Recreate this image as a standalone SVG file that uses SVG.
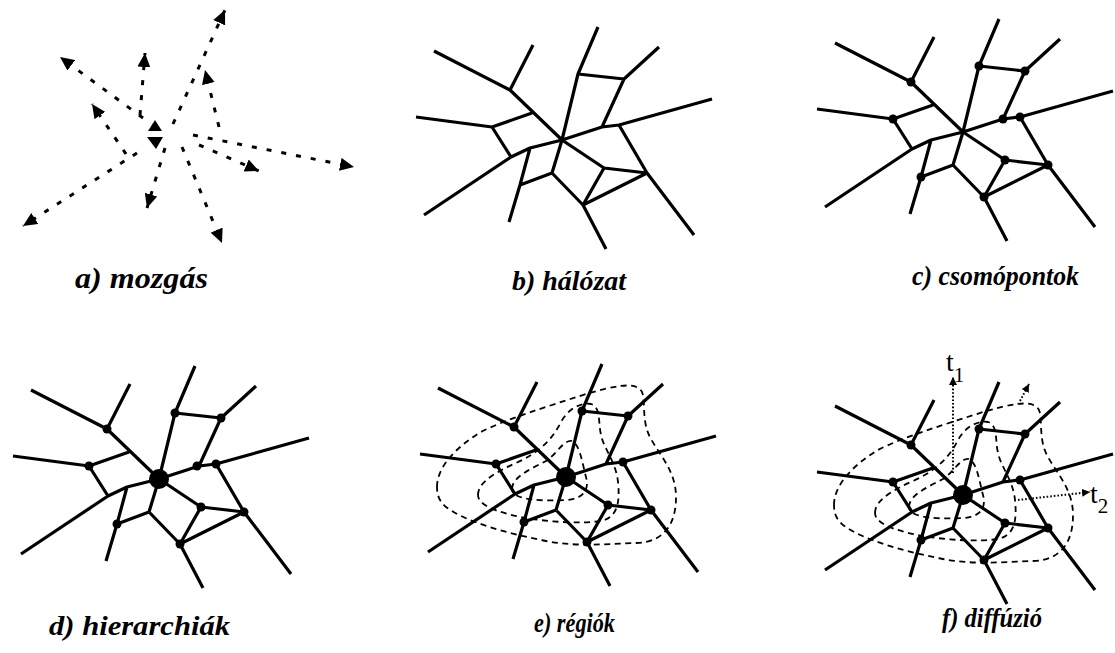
<svg xmlns="http://www.w3.org/2000/svg" xmlns:xlink="http://www.w3.org/1999/xlink" width="1115" height="653" viewBox="0 0 1115 653">
<style>
.net{fill:none;stroke:#000;stroke-width:3.2;stroke-linejoin:round}
.mv{fill:none;stroke:#000;stroke-width:3;stroke-dasharray:5 10}
.reg{fill:none;stroke:#000;stroke-width:1.8;stroke-dasharray:6 4.5}
.fine{fill:none;stroke:#000;stroke-width:2;stroke-dasharray:1.6 2}
.lbl{font-family:"Liberation Serif","Times New Roman",serif;font-style:italic;font-weight:bold;fill:#000}
.t{font-family:"Liberation Serif","Times New Roman",serif;fill:#000}
</style>
<defs>
<marker id="ah" markerUnits="userSpaceOnUse" markerWidth="15" markerHeight="13" refX="14" refY="6.5" orient="auto"><path d="M0,0 L14,6.5 L0,13 Z" fill="#000"/></marker>
<marker id="ahs" markerUnits="userSpaceOnUse" markerWidth="9" markerHeight="8" refX="8" refY="4" orient="auto"><path d="M0,0 L8,4 L0,8 Z" fill="#000"/></marker>
<path id="net" class="net" d="M-128,-89 L-52,-50 L0,0 M-52,-50 L-29,-95 M36,-113 L16,-66 L0,0 L-10,33 M16,-66 L62,-61 M97,-93 L62,-61 L40,-13 M150,-41 L57,-15 L40,-13 L0,0 L-32,8 L-51,17 L-138,75 M-146,-23 L-70,-13 L-30,-27 M-70,-13 L-51,17 M-32,8 L-42,45 L-53,82 M-42,45 L-10,33 M-10,33 L21,65 L44,109 M0,0 L42,28 L85,33 M42,28 L21,65 L85,33 M57,-15 L85,33 L132,95"/>
<g id="dots" fill="#000">
<circle cx="-52" cy="-50" r="4.5"/><circle cx="16" cy="-66" r="4.5"/><circle cx="62" cy="-61" r="4.5"/><circle cx="-70" cy="-13" r="4.5"/><circle cx="57" cy="-15" r="4.5"/><circle cx="-42" cy="45" r="4.5"/><circle cx="42" cy="28" r="4.5"/><circle cx="85" cy="33" r="4.5"/><circle cx="21" cy="65" r="4.5"/>
</g>
<g id="regions" class="reg">
<path d="M-129,10 C-129,-10 -110,-30 -85,-45 C-60,-58 -20,-70 20,-83 C45,-90 70,-97 76,-85 C80,-75 75,-55 85,-38 C95,-20 110,-5 110,20 C110,45 100,65 70,66 C40,67 10,70 -20,64 C-60,56 -100,45 -120,30 C-127,24 -129,18 -129,10 Z"/>
<path d="M-88,18 C-88,5 -70,-5 -50,-14 C-30,-23 -15,-35 -5,-55 C2,-68 15,-75 25,-73 C35,-70 32,-55 35,-42 C38,-28 50,-15 52,5 C54,25 52,40 35,44 C15,47 -20,45 -45,40 C-70,35 -88,28 -88,18 Z"/>
<path d="M-54,12 C-54,0 -35,-8 -20,-16 C-10,-22 -2,-38 6,-36 C14,-32 16,-15 20,0 C24,15 15,22 0,23 C-20,24 -54,24 -54,12 Z"/>
</g>
</defs>

<g id="panel-a">
<g id="moves">
<line class="mv" x1="173" y1="124" x2="225" y2="10" marker-end="url(#ah)"/>
<line class="mv" x1="143" y1="118" x2="60" y2="57" marker-end="url(#ah)"/>
<line class="mv" x1="140" y1="115" x2="145" y2="53" marker-end="url(#ah)"/>
<line class="mv" x1="219" y1="127" x2="205" y2="70" marker-end="url(#ah)"/>
<line class="mv" x1="126" y1="154" x2="92" y2="104" marker-end="url(#ah)"/>
<line class="mv" x1="137" y1="153" x2="23" y2="226" marker-end="url(#ah)"/>
<line class="mv" x1="165" y1="148" x2="147" y2="208" marker-end="url(#ah)"/>
<line class="mv" x1="182" y1="147" x2="222" y2="243" marker-end="url(#ah)"/>
<line class="mv" x1="199" y1="145" x2="259" y2="171" marker-end="url(#ah)"/>
<line class="mv" x1="193" y1="135" x2="354" y2="167" marker-end="url(#ah)"/>
</g>
<polygon points="155,120 148,131 162,131" fill="#000"/>
<polygon points="147,137 163,137 156,149" fill="#000"/>
<text class="lbl" x="75" y="288" font-size="29" textLength="133" lengthAdjust="spacingAndGlyphs">a) mozgás</text>
</g>

<g id="panel-b">
<use xlink:href="#net" href="#net" transform="translate(562,140)"/>
<text class="lbl" x="512" y="290" font-size="28" textLength="114" lengthAdjust="spacingAndGlyphs">b) hálózat</text>
</g>

<g id="panel-c">
<use xlink:href="#net" href="#net" transform="translate(963,132)"/>
<use xlink:href="#dots" href="#dots" transform="translate(963,132)"/>
<circle cx="1003" cy="119" r="4.5"/>
<text class="lbl" x="912" y="285" font-size="27" textLength="167" lengthAdjust="spacingAndGlyphs">c) csomópontok</text>
</g>

<g id="panel-d">
<use xlink:href="#net" href="#net" transform="translate(159,479)"/>
<use xlink:href="#dots" href="#dots" transform="translate(159,479)"/>
<circle cx="197" cy="466" r="4.5"/>
<circle cx="159" cy="479" r="10"/>
<text class="lbl" x="49" y="635" font-size="28" textLength="181" lengthAdjust="spacingAndGlyphs">d) hierarchiák</text>
</g>

<g id="panel-e">
<use xlink:href="#regions" href="#regions" transform="translate(566,477)"/>
<use xlink:href="#net" href="#net" transform="translate(566,477)"/>
<use xlink:href="#dots" href="#dots" transform="translate(566,477)"/>
<circle cx="566" cy="477" r="10"/>
<text class="lbl" x="534" y="632" font-size="27" textLength="81" lengthAdjust="spacingAndGlyphs">e) régiók</text>
</g>

<g id="panel-f">
<use xlink:href="#regions" href="#regions" transform="translate(963,495)"/>
<use xlink:href="#net" href="#net" transform="translate(963,495)"/>
<use xlink:href="#dots" href="#dots" transform="translate(963,495)"/>
<circle cx="963" cy="495" r="10"/>
<g id="diffusion">
<line class="fine" x1="953" y1="473" x2="953" y2="377" marker-end="url(#ahs)"/>
<line class="fine" x1="1018" y1="500" x2="1090" y2="492" marker-end="url(#ahs)"/>
<line class="fine" x1="1020" y1="401" x2="1029" y2="384" marker-end="url(#ahs)"/>
</g>
<text class="t" x="946" y="371" font-size="28">t<tspan font-size="21" dy="11">1</tspan></text>
<text class="t" x="1090" y="503" font-size="28">t<tspan font-size="21" dy="10">2</tspan></text>
<text class="lbl" x="942" y="627" font-size="27" textLength="100" lengthAdjust="spacingAndGlyphs">f) diffúzió</text>
</g>
</svg>
